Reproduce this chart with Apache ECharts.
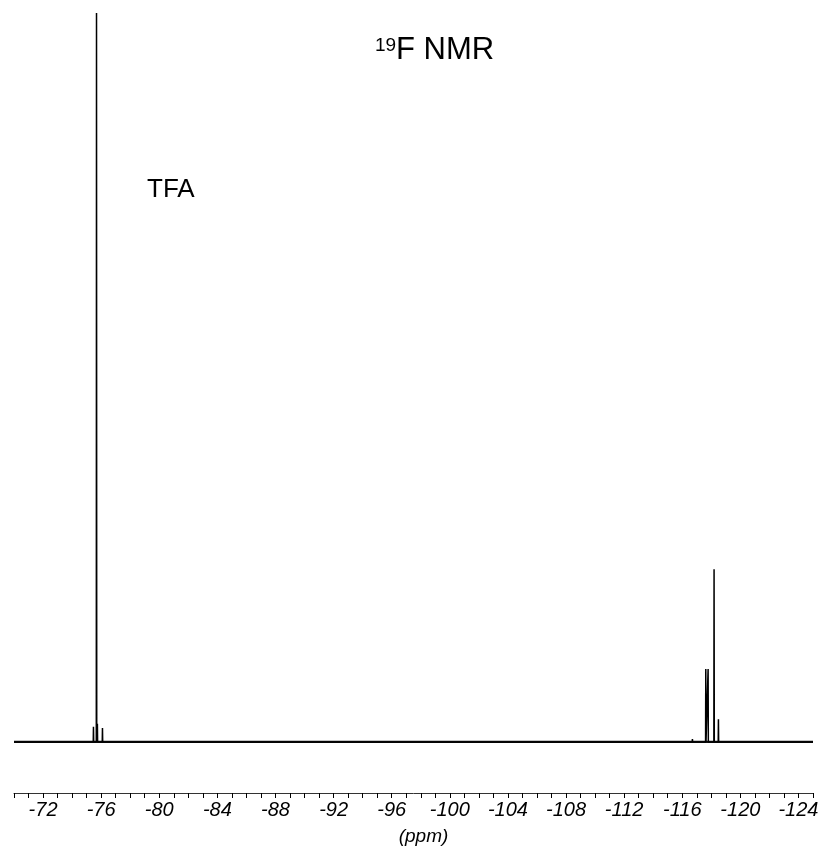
<!DOCTYPE html>
<html>
<head>
<meta charset="utf-8">
<script src="https://cdn.jsdelivr.net/npm/echarts@6/dist/echarts.min.js"></script>
<style>
html,body{margin:0;padding:0;background:#fff;}
#chart{width:830px;height:849px;}
</style>
</head>
<body>
<div id="chart"></div>
<script>
// Chemical shift axis (ppm)
const axisMin = -125;
const axisMax = -70;
const tickLabels = [-72, -76, -80, -84, -88, -92, -96, -100, -104, -108, -112, -116, -120, -124];

// Peak positions (ppm) and relative intensities
const peakPpm    = [-75.47, -75.68, -75.74, -76.09, -116.70, -117.62, -117.78, -118.19, -118.49];
const peakHeight = [0.021,  1.000,  0.025,  0.019,  0.004,   0.100,   0.100,   0.237,   0.031];

// Build the stick spectrum: baseline at 0 with narrow lines at each peak
const halfWidth = 0.015;
const spectrum = [[axisMax, 0]];
peakPpm.forEach((p, i) => {
  spectrum.push([p + halfWidth, 0]);
  spectrum.push([p, peakHeight[i]]);
  spectrum.push([p - halfWidth, 0]);
});
spectrum.push([axisMin, 0]);
spectrum.sort((a, b) => b[0] - a[0]);
const baseline = [[axisMax, 0], [axisMin, 0]];

const font = '"Liberation Sans", Arial, sans-serif';
const chart = echarts.init(document.getElementById('chart'), null, {renderer: 'canvas'});
chart.setOption({
  animation: false,
  backgroundColor: '#ffffff',
  title: [
    {text: 'F NMR', left: 396, top: 35, padding: 0, textStyle: {fontFamily: font, fontSize: 31, fontWeight: 'normal', color: '#000'}},
    {text: '19', left: 375, top: 36, padding: 0, textStyle: {fontFamily: font, fontSize: 19, fontWeight: 'normal', color: '#000'}},
    {text: 'TFA', left: 147, top: 177, padding: 0, textStyle: {fontFamily: font, fontSize: 26, fontWeight: 'normal', color: '#000'}}
  ],
  grid: {left: 14, right: 17, top: 13, bottom: 56, containLabel: false, outerBoundsMode: 'none'},
  xAxis: {
    type: 'value',
    min: axisMin,
    max: axisMax,
    interval: 1,
    inverse: true,
    name: '(ppm)',
    nameLocation: 'middle',
    nameGap: 33,
    nameTextStyle: {fontFamily: font, fontSize: 19, fontStyle: 'italic', color: '#000', padding: [1, 0, 0, 20]},
    splitLine: {show: false},
    axisLine: {show: true, onZero: false, lineStyle: {color: '#333', width: 1}},
    axisTick: {show: true, inside: false, length: 5, interval: 0, lineStyle: {color: '#000', width: 1}},
    axisLabel: {
      show: true,
      interval: 0,
      margin: 7,
      fontFamily: font,
      fontSize: 20,
      fontStyle: 'italic',
      color: '#000',
      formatter: function (v) {
        const r = Math.round(v);
        return tickLabels.indexOf(r) >= 0 ? String(r) : '';
      }
    }
  },
  yAxis: {
    type: 'value',
    min: -0.07,
    max: 1.0,
    show: false,
    splitLine: {show: false}
  },
  series: [{
    type: 'line',
    data: baseline,
    showSymbol: false,
    symbol: 'none',
    lineStyle: {color: '#111', width: 2.2},
    z: 1
  }, {
    type: 'line',
    data: spectrum,
    showSymbol: false,
    symbol: 'none',
    lineStyle: {color: '#000', width: 1.5},
    clip: false,
    z: 2
  }]
});
</script>
</body>
</html>
